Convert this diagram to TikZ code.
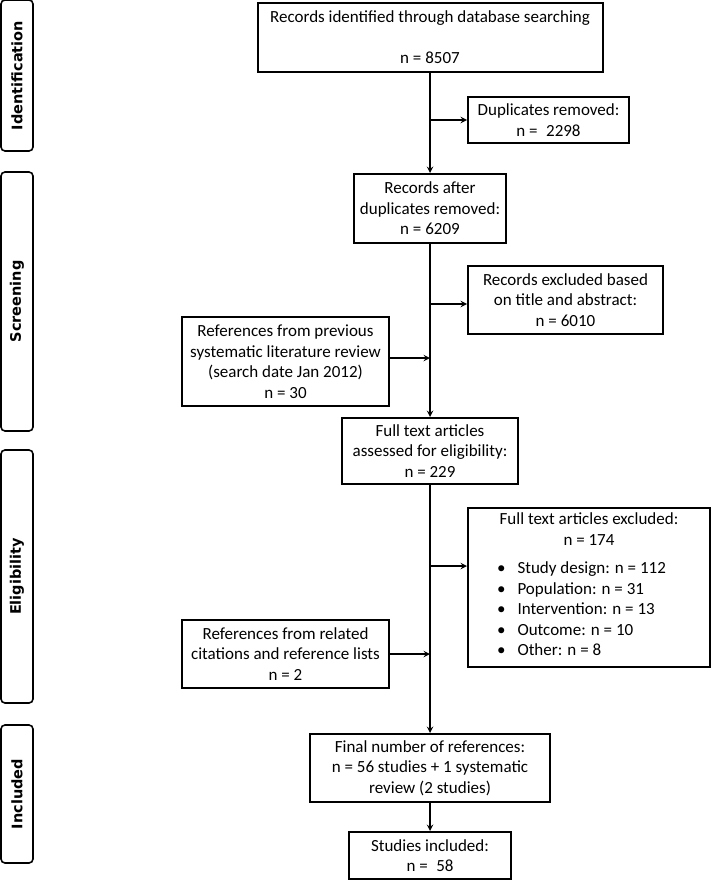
\documentclass[tikz,border=0pt]{standalone}
\usepackage{fontspec}
\setmainfont{Carlito}
\newfontfamily\phasefont{DejaVu Sans}
\usepackage{tikz}
\usetikzlibrary{arrows,positioning,shapes}

\begin{document}
\begin{tikzpicture}[
				x = 1pt, y = -1pt, % pixel units, y runs down
				> = stealth, % arrow head style
				line width = 1.8pt, % line style
				font = \fontsize{17}{20.5}\selectfont
			]
			
			\tikzstyle{box}=[
			draw = black,
			line width = 2pt,
			fill = white,
			align = center,
			inner sep = 0pt
			]
			
			\tikzstyle{phase}=[
			draw = black,
			line width = 1.6pt,
			rounded corners = 4pt,
			rotate = 90,
			minimum height = 32pt,
			inner sep = 0pt,
			font = \phasefont\bfseries\fontsize{14.5}{17}\selectfont
			]
			
			\useasboundingbox (0,0) rectangle (711,880);
			
			% phases on the left
			\node[phase, minimum width = 151pt] (ident) at (17,75.5) {Identification};
			\node[phase, minimum width = 259pt] (screen) at (17,301.5) {Screening};
			\node[phase, minimum width = 253pt] (elig) at (17,576.5) {Eligibility};
			\node[phase, minimum width = 138pt] (inc) at (17,794) {Included};
			
			% main column
			\node[box, minimum width = 345pt, minimum height = 69pt] (found) at (430,37.5) {Records identified through database searching\\[20.5pt] n = 8507};
			\node[box, minimum width = 152pt, minimum height = 69pt] (after) at (430,208.5) {Records after\\ duplicates removed:\\ n = 6209};
			\node[box, minimum width = 176pt, minimum height = 66pt] (full) at (430,451) {Full text articles\\ assessed for eligibility:\\ n = 229};
			\node[box, minimum width = 240pt, minimum height = 68pt] (final) at (430,768) {Final number of references:\\ n = 56 studies + 1 systematic\\ review (2 studies)};
			\node[box, minimum width = 162pt, minimum height = 47pt] (incl) at (430,855.5) {Studies included:\\ n =\enspace 58};
			
			% removed / excluded
			\node[box, minimum width = 161pt, minimum height = 46pt] (dup) at (548.5,120) {Duplicates removed:\\ n =\enspace 2298};
			\node[box, minimum width = 195pt, minimum height = 68pt] (excl) at (565.5,300) {Records excluded based\\ on title and abstract:\\ n = 6010};
			\node[box, minimum width = 242pt, minimum height = 159pt] (fullexcl) at (589,587.5) {Full text articles excluded:\\[0.5pt] n = 174\\[7.5pt]
				\begin{tabular}[t]{@{}l@{}}
					\textbullet\hspace{12pt}Study design: n = 112\\
					\textbullet\hspace{12pt}Population: n = 31\\
					\textbullet\hspace{12pt}Intervention: n = 13\\
					\textbullet\hspace{12pt}Outcome: n = 10\\
					\textbullet\hspace{12pt}Other: n = 8
				\end{tabular}\hspace*{15pt}};
			
			% added references
			\node[box, minimum width = 207pt, minimum height = 89pt] (prev) at (285.5,361.5) {References from previous\\ systematic literature review\\ (search date Jan 2012)\\ n = 30};
			\node[box, minimum width = 207pt, minimum height = 68pt] (rel) at (285.5,654) {References from related\\ citations and reference lists\\ n = 2};
			
			\coordinate (exclin) at ([yshift=-4pt]excl.west);
			\coordinate (fullexclin) at ([yshift=21.5pt]fullexcl.west);
			\coordinate (prevout) at ([yshift=3.5pt]prev.east);
			
			\draw[->] (found) -- (after);
			\draw[->] (after) -- (full);
			\draw[->] (full) -- (final);
			\draw[->] (final) -- (incl);
			
			\draw[->] (found.south |- dup.west) -- (dup.west);
			\draw[->] (found.south |- exclin) -- (exclin);
			\draw[->] (found.south |- fullexclin) -- (fullexclin);
			\draw[->] (prevout) -- (prevout -| found.south);
			\draw[->] (rel.east) -- (rel.east -| found.south);
		\end{tikzpicture}
\end{document}
